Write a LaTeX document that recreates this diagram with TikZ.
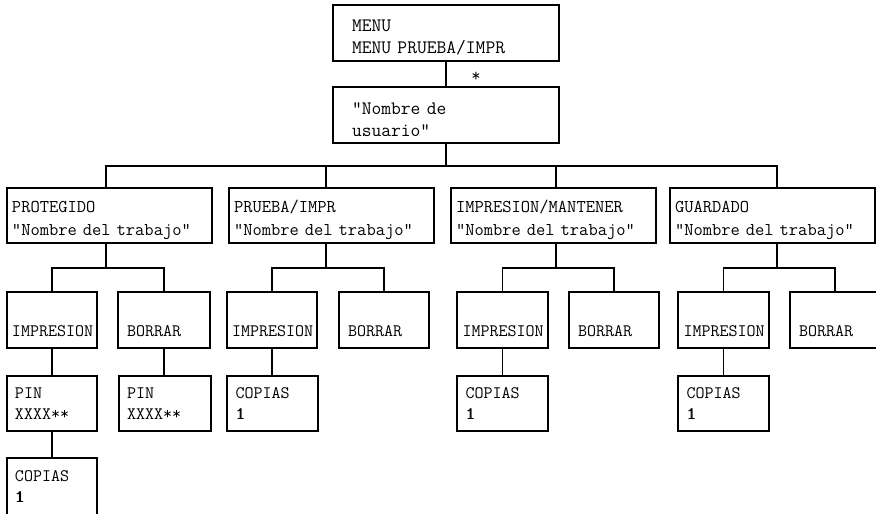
\documentclass[tikz,border=0pt]{standalone}
\usepackage{fontspec}
\newcommand{\boldone}{\mbox{\rlap{1}\kern0.8pt 1}}
\begin{document}
\begin{tikzpicture}[x=1pt,y=-1pt,
  conn/.style={line width=1.6pt},
  frame/.style={draw, line width=1.6pt, rectangle, anchor=north west, inner ysep=0pt, outer sep=0pt, align=left},
  topbox/.style={frame, minimum width=226pt, minimum height=56pt, inner xsep=19pt, text width=188pt, font=\ttfamily\fontsize{19}{22}\selectfont},
  grpbox/.style={frame, minimum width=205pt, minimum height=55pt, inner xsep=5pt, text width=195pt, font=\ttfamily\fontsize{18}{23}\selectfont},
  leafbox/.style={frame, minimum width=90pt, minimum height=56pt, inner xsep=5pt, text width=80pt, text height=35pt, text depth=3pt, font=\ttfamily\fontsize{17.5}{21}\selectfont},
  valbox/.style={frame, minimum width=90pt, minimum height=55pt, inner xsep=8pt, text width=74pt, font=\ttfamily\fontsize{17.5}{21}\selectfont},
  astmark/.style={inner sep=0pt, font=\ttfamily\fontsize{18}{18}\selectfont}
]
\useasboundingbox (0,0) rectangle (876,514);

% top
\node[topbox] (menu) at (333,5) {\rule{0pt}{21pt}MENU\\MENU PRUEBA/IMPR};
\node[topbox] (user) at (333,87) {\rule{0pt}{21pt}"Nombre de\\usuario"};
\node[astmark] (ast) at (476,77) {*};
\draw[conn] (menu.south) -- (menu.south |- user.north);
\path (user.south) ++(0,23) coordinate (hub);
\draw[conn] (user.south) -- (hub);

% groups
\node[grpbox] (g1) at (7,188) {\rule{0pt}{22pt}PROTEGIDO\\"Nombre del trabajo"};
\node[grpbox] (g2) at (229,188) {\rule{0pt}{22pt}PRUEBA/IMPR\\"Nombre del trabajo"};
\node[grpbox] (g3) at (451,188) {\rule{0pt}{22pt}IMPRESION/MANTENER\\"Nombre del trabajo"};
\node[grpbox] (g4) at (670,188) {\rule{0pt}{22pt}GUARDADO\\"Nombre del trabajo"};

\coordinate (b1) at (106,268);
\coordinate (b2) at (326,268);
\coordinate (b3) at (556,268);
\coordinate (b4) at (777,268);

\draw[conn] (g1.north -| b1) |- (hub);
\draw[conn] (g2.north -| b2) |- (hub);
\draw[conn] (g3.north -| b3) |- (hub);
\draw[conn] (g4.north -| b4) |- (hub);
\foreach \k in {1,2,3,4} {\draw[conn] (g\k.south -| b\k) -- (b\k);}

% second level
\node[leafbox] (i1) at (7,292) {IMPRESION};
\node[leafbox, minimum width=92pt, inner xsep=9pt, text width=74pt] (d1) at (118,292) {BORRAR};
\node[leafbox] (i2) at (227,292) {IMPRESION};
\node[leafbox, inner xsep=9pt, text width=72pt] (d2) at (339,292) {BORRAR};
\node[leafbox, minimum width=91pt] (i3) at (457,292) {IMPRESION};
\node[leafbox, inner xsep=9pt, text width=72pt] (d3) at (569,292) {BORRAR};
\node[leafbox, minimum width=91pt] (i4) at (678,292) {IMPRESION};
\node[leafbox, inner xsep=9pt, text width=72pt] (d4) at (790,292) {BORRAR};

\foreach \k in {1,2,3,4} {\draw[conn] (i\k.north) |- (b\k) -| (d\k.north);}

% third level
\node[valbox] (p1) at (7,376) {PIN\\XXXX**};
\node[valbox, minimum width=92pt, text width=76pt] (q1) at (119,376) {PIN\\XXXX**};
\node[valbox, minimum width=91pt] (c2) at (227,376) {COPIAS\\\boldone};
\node[valbox, minimum width=91pt] (c3) at (457,376) {COPIAS\\\boldone};
\node[valbox, minimum width=91pt] (c4) at (678,376) {COPIAS\\\boldone};
\node[valbox, minimum height=58pt] (c1) at (7,458) {COPIAS\\\boldone};

\draw[conn] (i1.south) -- (i1.south |- p1.north);
\draw[conn] (d1.south) -- (d1.south |- q1.north);
\draw[conn] (p1.south) -- (p1.south |- c1.north);
\draw[conn] (i2.south) -- (i2.south |- c2.north);
\draw[conn] (i3.south) -- (i3.south |- c3.north);
\draw[conn] (i4.south) -- (i4.south |- c4.north);
\end{tikzpicture}
\end{document}
